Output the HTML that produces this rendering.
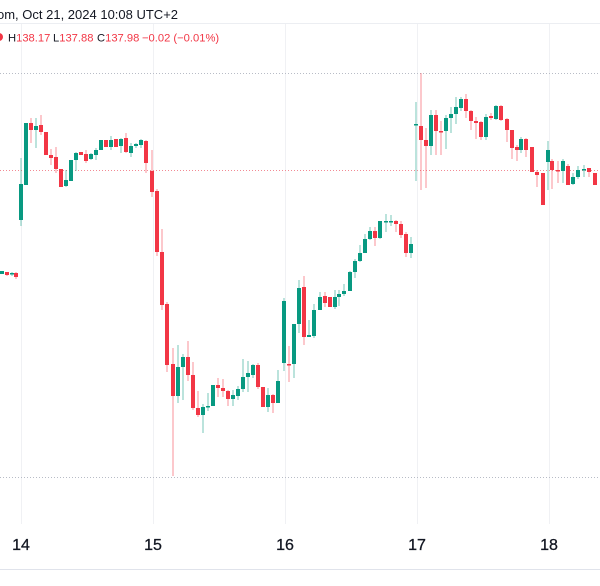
<!DOCTYPE html>
<html><head><meta charset="utf-8"><style>
html,body{margin:0;padding:0;background:#fff;}
svg{display:block;font-family:"Liberation Sans",Arial,sans-serif;}
</style></head><body>
<svg id="c" width="600" height="586" xmlns="http://www.w3.org/2000/svg">
<rect width="600" height="586" fill="#fff"/>
<g stroke="#f0f1f4" stroke-width="1">
<line x1="21.5" y1="23" x2="21.5" y2="524"/><line x1="153.5" y1="23" x2="153.5" y2="524"/>
<line x1="285.5" y1="23" x2="285.5" y2="524"/><line x1="417.5" y1="23" x2="417.5" y2="524"/>
<line x1="549.5" y1="23" x2="549.5" y2="524"/>
</g>
<line x1="0" y1="23.5" x2="600" y2="23.5" stroke="#eceef2"/>
<line x1="0" y1="73.5" x2="600" y2="73.5" stroke="#b8bcc6" stroke-dasharray="1,2"/>
<line x1="0" y1="170.5" x2="600" y2="170.5" stroke="#f28a94" stroke-dasharray="1,2"/>
<line x1="0" y1="477.5" x2="600" y2="477.5" stroke="#b8bcc6" stroke-dasharray="1,2"/>
<text x="-3" y="19" font-size="13" fill="#131722">om, Oct 21, 2024 10:08 UTC+2</text>
<circle cx="-1" cy="37" r="4" fill="#f23645"/>
<g font-size="11.2" fill="#131722">
<text x="8" y="41.5">H<tspan fill="#f23645">138.17</tspan></text>
<text x="53" y="41.5">L<tspan fill="#f23645">137.88</tspan></text>
<text x="97" y="41.5">C<tspan fill="#f23645">137.98</tspan></text>
<text x="142" y="41.5" fill="#f23645">−0.02 (−0.01%)</text>
</g>
<g id="k"></g>
<g font-size="16" fill="#131722" text-anchor="middle" stroke="#131722" stroke-width="0.3">
<text x="21" y="550">14</text><text x="153" y="550">15</text><text x="285" y="550">16</text><text x="417" y="550">17</text><text x="549" y="550">18</text>
</g>
<line x1="0" y1="569.5" x2="600" y2="569.5" stroke="#e0e3eb"/>
</svg>
<script>
var d=[
[2,'g',271,274,271,274],[7,'r',272,275,272,276],[12,'g',273,274,272,276],[16,'r',273,277,272,279],
[21,'g',184,220,158,226],[26,'g',123,185,123,185],[31,'r',123,130,118,143],[36,'g',126,130,118,148],
[41,'r',125,132,115,135],[46,'r',132,155,132,155],[51,'r',155,158,149,165],[56,'r',157,169,147,173],
[61,'r',169,187,169,187],[66,'g',180,186,170,187],[71,'g',160,181,160,181],[76,'g',153,160,152,171],
[81,'r',152,155,152,155],[86,'r',154,161,150,163],[91,'g',154,159,153,160],[96,'g',150,155,148,160],
[101,'g',140,150,140,150],[106,'r',140,147,140,147],[111,'g',140,147,136,150],[116,'r',139,147,139,147],
[121,'g',139,146,138,153],[126,'r',138,152,133,153],[131,'g',146,153,143,157],[136,'g',144,146,143,148],
[141,'g',140,145,139,148],[146,'r',141,163,140,173],[152,'r',171,192,150,197],[157,'r',191,252,189,256],
[162,'r',252,305,229,310],[167,'r',304,365,302,372],[173,'r',364,396,348,476],[178,'g',367,396,345,403],
[183,'g',357,367,354,400],[188,'r',357,375,341,381],[193,'r',375,408,362,410],[198,'r',408,415,391,417],
[203,'g',407,415,404,433],[208,'g',406,407,393,411],[213,'g',385,406,385,406],[218,'r',385,388,378,397],
[223,'r',388,391,379,397],[228,'r',391,399,390,406],[233,'g',395,399,390,406],[238,'g',389,396,386,400],
[243,'g',377,389,359,392],[248,'g',373,377,361,392],[253,'g',365,375,364,378],[258,'r',365,387,363,389],
[263,'r',387,407,387,407],[268,'g',395,407,388,412],[273,'r',395,403,394,413],[278,'g',381,403,370,403],
[284,'g',301,363,298,371],[289,'r',364,365,346,382],[294,'g',324,364,324,378],[299,'g',288,324,280,333],
[304,'r',287,337,276,345],[309,'g',335,337,320,337],[314,'g',310,336,304,338],[320,'g',297,310,292,310],
[325,'r',296,303,292,307],[330,'r',297,307,297,307],[335,'g',297,307,290,309],[339,'g',294,297,290,306],
[344,'g',291,294,284,296],[350,'g',272,291,271,291],[355,'g',261,272,259,278],[360,'g',253,261,245,262],
[365,'g',239,253,234,253],[370,'g',231,239,227,240],[375,'r',231,238,227,246],[380,'g',221,238,221,239],
[386,'g',221,222,214,232],[391,'g',221,222,215,226],[396,'r',221,224,220,232],[401,'r',224,235,221,238],
[406,'r',234,253,232,257],[411,'g',244,253,237,258],
[416,'g',124,125,102,181],[421,'r',126,140,73,190],[426,'r',140,146,128,188],[431,'g',115,146,110,155],
[436,'r',115,131,110,155],[441,'r',131,132,121,155],[446,'g',118,131,115,149],[451,'g',114,118,107,133],
[456,'g',107,114,97,124],[461,'g',99,108,97,111],[466,'r',99,111,94,118],[471,'r',111,121,110,130],
[476,'r',121,123,117,139],[481,'r',122,137,121,140],[486,'g',117,137,114,140],[491,'r',116,118,113,120],
[496,'g',106,119,105,120],[501,'r',106,120,105,121],[507,'r',119,130,118,142],[512,'r',130,148,130,159],
[517,'r',147,150,145,161],[521,'g',139,150,137,153],[526,'r',139,150,138,157],[532,'r',147,172,147,172],
[537,'r',172,175,170,187],[543,'r',173,205,173,205],[548,'g',150,162,141,190],[552,'r',161,170,159,189],
[558,'r',170,171,161,183],[563,'g',161,171,159,183],[568,'r',166,185,164,185],[573,'g',177,184,173,185],
[578,'g',170,177,166,179],[584,'g',169,170,165,177],[589,'r',168,172,168,177],[595,'r',173,185,173,185]];
var s='';
d.forEach(function(c){var col=c[1]=='g'?'#089981':'#f23645';
s+='<rect x="'+(c[0]-0.5)+'" y="'+c[4]+'" width="1" height="'+(c[5]-c[4])+'" fill="'+col+'" opacity="0.55"/>';
var h=Math.max(1.5,c[3]-c[2]);
s+='<rect x="'+(c[0]-2)+'" y="'+c[2]+'" width="4" height="'+h+'" fill="'+col+'"/>';});
document.getElementById('k').innerHTML=s;
</script>
</body></html>
